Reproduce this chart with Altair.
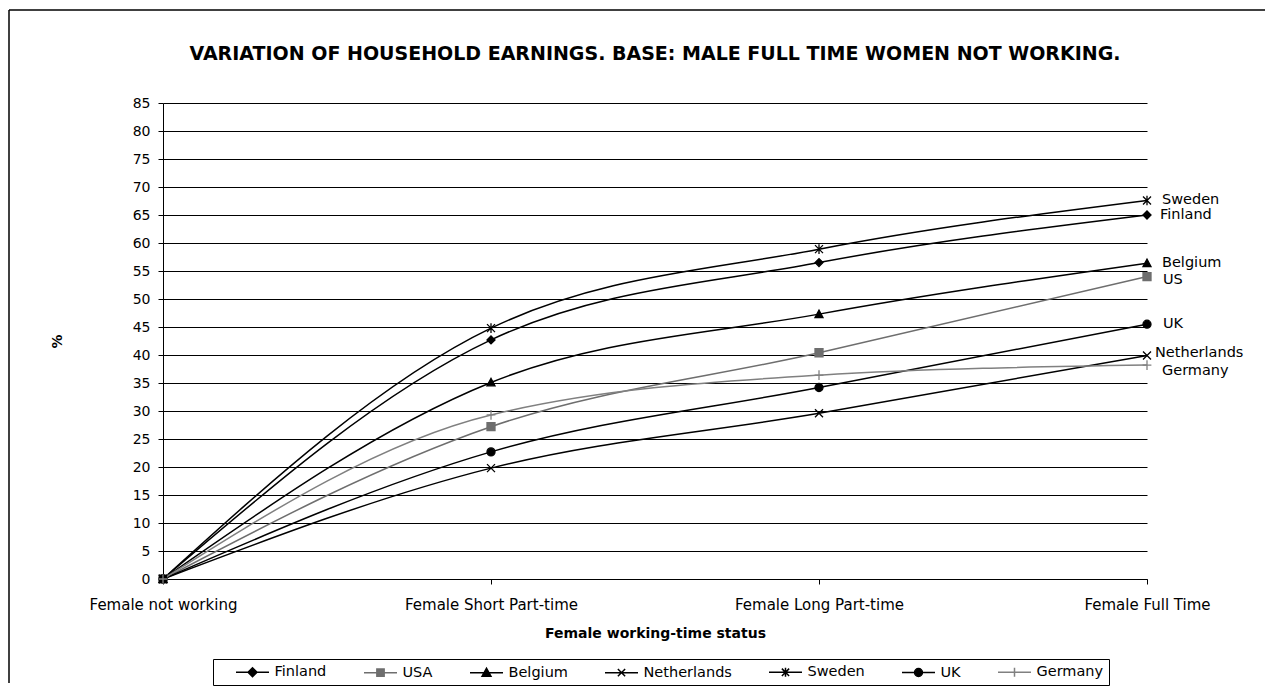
import altair as alt
import pandas as pd

# ---------------- data ----------------
categories = ["Female not working", "Female Short Part-time", "Female Long Part-time", "Female Full Time"]
countries = ["Finland", "USA", "Belgium", "Netherlands", "Sweden", "UK", "Germany"]
end_labels = ["Finland", "US", "Belgium", "Netherlands", "Sweden", "UK", "Germany"]

finland = [0, 42.7, 56.5, 65.0]
usa = [0, 27.2, 40.4, 54.0]
belgium = [0, 35.1, 47.3, 56.4]
netherlands = [0, 19.8, 29.6, 39.9]
sweden = [0, 44.8, 58.9, 67.6]
uk = [0, 22.7, 34.2, 45.5]
germany = [0, 29.3, 36.4, 38.2]

y_ticks = list(range(0, 90, 5))
title_text = "VARIATION OF  HOUSEHOLD  EARNINGS. BASE: MALE  FULL TIME WOMEN NOT WORKING."
x_title = "Female working-time status"
y_title = "%"

series = [finland, usa, belgium, netherlands, sweden, uk, germany]
rows = []
for c, lab, vals in zip(countries, end_labels, series):
    for cat, v in zip(categories, vals):
        rows.append({"status": cat, "value": v, "country": c, "label": lab})
df = pd.DataFrame(rows)

# ---------------- styles ----------------
FONT = "DejaVu Sans"
series_colors = ["#000000", "#6e6e6e", "#000000", "#000000", "#000000", "#000000", "#808080"]

marker_paths = [
    "M-1,0L0,-1L1,0L0,1Z",                                  # diamond
    "M-1,-1L1,-1L1,1L-1,1Z",                                # square
    "M-1,0.85L0,-1L1,0.85Z",                                # triangle
    "M-1,-1L1,1M-1,1L1,-1",                                 # x
    "M-1,-1L1,1M-1,1L1,-1M0,-1.2L0,1.2",                    # asterisk
    "M1,0A1,1,0,1,1,-1,0A1,1,0,1,1,1,0Z",                   # circle
    "M-1.1,0L1.1,0M0,-1.2L0,1.2",                           # plus
]

# legend symbols: a short line with the marker on it (drawn wider than the
# nominal symbol size so that the legend row stays compact)
k = 33 / 14.0
def _s(v):
    return f"{v * k:.3f}"
legend_marks = [
    [("M", -0.27, 0), ("L", 0, -0.27), ("L", 0.27, 0), ("L", 0, 0.27), ("Z",)],
    [("M", -0.22, -0.22), ("L", 0.22, -0.22), ("L", 0.22, 0.22), ("L", -0.22, 0.22), ("Z",)],
    [("M", -0.27, 0.22), ("L", 0, -0.27), ("L", 0.27, 0.22), ("Z",)],
    [("M", -0.22, -0.22), ("L", 0.22, 0.22), ("M", -0.22, 0.22), ("L", 0.22, -0.22)],
    [("M", -0.22, -0.22), ("L", 0.22, 0.22), ("M", -0.22, 0.22), ("L", 0.22, -0.22), ("M", 0, -0.27), ("L", 0, 0.27)],
    None,
    [("M", 0, -0.27), ("L", 0, 0.27)],
]
legend_paths = []
for cmds in legend_marks:
    p = f"M{_s(-1)},0L{_s(1)},0"
    if cmds is None:
        r = _s(0.24)
        p += f"M{r},0A{r},{r},0,1,1,-{r},0A{r},{r},0,1,1,{r},0Z"
    else:
        for cmd in cmds:
            if cmd[0] == "Z":
                p += "Z"
            else:
                p += f"{cmd[0]}{_s(cmd[1])},{_s(cmd[2])}"
    legend_paths.append(p)

label_offsets = {
    "Finland": (13, 0), "USA": (16, 3), "Belgium": (15, 0), "Netherlands": (8, -3),
    "Sweden": (15, 0), "UK": (16, 0), "Germany": (15, 6),
}

W, H = 984, 476

color_scale = alt.Scale(domain=countries, range=series_colors)
marker_scale = alt.Scale(domain=countries, range=marker_paths)
legend_shape_scale = alt.Scale(domain=countries, range=legend_paths)

x_enc = alt.X(
    "status:O",
    scale=alt.Scale(type="point", domain=categories, padding=0),
    axis=alt.Axis(
        labelAngle=0, tickSize=5, labelPadding=13, labelFontSize=15, grid=False,
        title=x_title, titleY=47, titleBaseline="top",
    ),
)
y_enc = alt.Y(
    "value:Q",
    scale=alt.Scale(domain=[0, 85], nice=False),
    axis=alt.Axis(
        values=y_ticks, grid=True, gridColor="black", gridWidth=1, tickSize=5,
        labelPadding=8, labelFontSize=14, title=y_title, titleAngle=270,
        titleX=-106, titleY=238, titleAlign="center", titleBaseline="middle",
    ),
)

one = pd.DataFrame({"t": [title_text]})

frame_v = alt.Chart(one).mark_rule(color="black", strokeWidth=1.5).encode(
    x=alt.value(-154), y=alt.value(-93), y2=alt.value(580)
)
frame_h = alt.Chart(one).mark_rule(color="black", strokeWidth=1.5).encode(
    x=alt.value(-154), x2=alt.value(1102), y=alt.value(-93)
)

title = alt.Chart(one).mark_text(
    font=FONT, fontSize=19, fontWeight="bold", color="black", align="center", baseline="middle"
).encode(text="t:N", x=alt.value(W / 2), y=alt.value(-49))

lines = alt.Chart(df).mark_line(interpolate="monotone", strokeWidth=1.5).encode(
    x=x_enc, y=y_enc,
    color=alt.Color("country:N", scale=color_scale, legend=None),
    detail="country:N",
)

points = alt.Chart(df).mark_point(filled=True, opacity=1, size=64, strokeWidth=1.3).encode(
    x=x_enc, y=y_enc,
    shape=alt.Shape("country:N", scale=marker_scale, legend=None),
    color=alt.Color("country:N", scale=color_scale, legend=None),
    stroke=alt.Stroke("country:N", scale=color_scale, legend=None),
)

label_layers = []
for c in countries:
    dx, dy = label_offsets[c]
    label_layers.append(
        alt.Chart(df)
        .transform_filter((alt.datum.status == categories[-1]) & (alt.datum.country == c))
        .mark_text(align="left", baseline="middle", dx=dx, dy=dy, font=FONT, fontSize=14.5, color="black")
        .encode(x=x_enc, y=y_enc, text="label:N")
    )

legend_layer = alt.Chart(df).transform_filter("false").mark_point(
    filled=True, opacity=1, strokeWidth=1.5
).encode(
    x=x_enc, y=y_enc,
    shape=alt.Shape("country:N", scale=legend_shape_scale, legend=alt.Legend(title=None)),
    color=alt.Color("country:N", scale=color_scale, legend=alt.Legend(title=None)),
    stroke=alt.Stroke("country:N", scale=color_scale, legend=alt.Legend(title=None)),
)

chart = (
    alt.layer(frame_v, frame_h, title, lines, points, *label_layers, legend_layer)
    .resolve_scale(shape="independent", color="independent", stroke="independent")
    .properties(width=W, height=H, padding={"left": 0, "top": 1, "right": 0, "bottom": 0})
    .configure_view(stroke=None)
    .configure_axis(
        labelFont=FONT, labelColor="black", domainColor="black", tickColor="black",
        titleFont=FONT, titleColor="black", titleFontWeight="bold", titleFontSize=14,
        domainWidth=1,
    )
    .configure_legend(
        orient="none", legendX=50, legendY=556, direction="horizontal",
        padding=5, strokeColor="black", fillColor="white",
        labelFont=FONT, labelFontSize=14.5, labelColor="black",
        symbolSize=196, symbolStrokeWidth=1.5, symbolOffset=26.5, labelOffset=14,
        columnPadding=19,
    )
)

chart.save("out.html", embed_options={"renderer": "svg", "actions": False})
